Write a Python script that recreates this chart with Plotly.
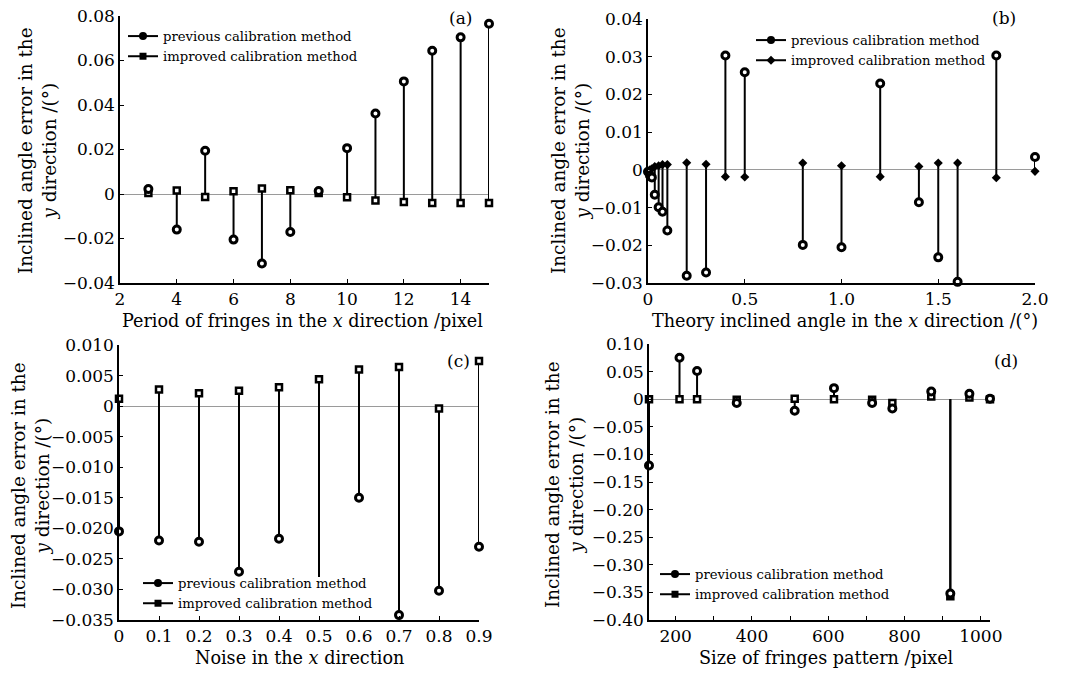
import plotly.graph_objects as go

# ---------------- data ----------------
# (a) period of fringes
a_x = [3, 4, 5, 6, 7, 8, 9, 10, 11, 12, 13, 14, 15]
a_prev = [0.0022, -0.0160, 0.0194, -0.0205, -0.0312, -0.0171, 0.0013, 0.0206, 0.0362, 0.0506, 0.0644, 0.0704, 0.0765]
a_impr = [0.0004, 0.0016, -0.0014, 0.0012, 0.0025, 0.0017, 0.0004, -0.0015, -0.0029, -0.0036, -0.0041, -0.0041, -0.0041]

# (b) theory inclined angle
b_x = [0.0, 0.01, 0.02, 0.035, 0.055, 0.075, 0.1, 0.2, 0.3, 0.4, 0.5, 0.8, 1.0, 1.2, 1.4, 1.5, 1.6, 1.8, 2.0]
b_prev = [-0.0005, -0.0015, -0.0020, -0.0066, -0.0099, -0.0111, -0.0161, -0.0281, -0.0272, 0.0303, 0.0259,
          -0.0199, -0.0205, 0.0229, -0.0086, -0.0232, -0.0297, 0.0303, 0.0034]
b_impr = [-0.0003, 0.0000, 0.0003, 0.0009, 0.0011, 0.0014, 0.0014, 0.0019, 0.0015, -0.0018, -0.0019,
          0.0018, 0.0011, -0.0018, 0.0009, 0.0018, 0.0018, -0.0021, -0.0004]

# (c) noise
c_x = [0.0, 0.1, 0.2, 0.3, 0.4, 0.5, 0.6, 0.7, 0.8, 0.9]
c_prev = [-0.0205, -0.0220, -0.0222, -0.0271, -0.0217, -0.0310, -0.0150, -0.0342, -0.0302, -0.0230]
c_impr = [0.0012, 0.0027, 0.0021, 0.0025, 0.0031, 0.0044, 0.0060, 0.0064, -0.0004, 0.0074]

# (d) size of fringes pattern
d_x = [130, 210, 256, 360, 512, 615, 715, 768, 870, 920, 970, 1024]
d_prev = [-0.120, 0.075, 0.051, -0.007, -0.021, 0.020, -0.007, -0.017, 0.014, -0.352, 0.010, 0.001]
d_impr = [0.000, 0.000, 0.000, -0.001, 0.001, 0.000, -0.001, -0.007, 0.005, -0.357, 0.003, 0.000]

legend_names = ["previous calibration method", "improved calibration method"]

a_yticks = [0.08, 0.06, 0.04, 0.02, 0, -0.02, -0.04]
a_ytext = ["0.08", "0.06", "0.04", "0.02", "0", "\u22120.02", "\u22120.04"]
b_yticks = [0.04, 0.03, 0.02, 0.01, 0, -0.01, -0.02, -0.03]
b_ytext = ["0.04", "0.03", "0.02", "0.01", "0", "\u22120.01", "\u22120.02", "\u22120.03"]
b_xticks = [0, 0.5, 1.0, 1.5, 2.0]
b_xtext = ["0", "0.5", "1.0", "1.5", "2.0"]
c_yticks = [0.010, 0.005, 0, -0.005, -0.010, -0.015, -0.020, -0.025, -0.030, -0.035]
c_ytext = ["0.010", "0.005", "0", "\u22120.005", "\u22120.010", "\u22120.015", "\u22120.020",
           "\u22120.025", "\u22120.030", "\u22120.035"]
c_xticks = [0, 0.1, 0.2, 0.3, 0.4, 0.5, 0.6, 0.7, 0.8, 0.9]
c_xtext = ["0", "0.1", "0.2", "0.3", "0.4", "0.5", "0.6", "0.7", "0.8", "0.9"]
d_yticks = [0.10, 0.05, 0, -0.05, -0.10, -0.15, -0.20, -0.25, -0.30, -0.35, -0.40]
d_ytext = ["0.10", "0.05", "0", "\u22120.05", "\u22120.10", "\u22120.15", "\u22120.20", "\u22120.25",
           "\u22120.30", "\u22120.35", "\u22120.40"]

# ---------------- figure ----------------
FONT = "DejaVu Serif"
OFF = 8                      # page body margin in the browser
FW, FH = 1068 - OFF, 673 - OFF
fig = go.Figure()


def fx(px):
    return (px - OFF) / FW


def fy(py):
    return 1 - (py - OFF) / FH


def stems(xs, ys):
    sx, sy = [], []
    for xv, yv in zip(xs, ys):
        sx += [xv, xv, None]
        sy += [0, yv, None]
    return sx, sy


def add_panel(idx, xs, prev, impr, impr_symbol, legend_id):
    xa = "x" if idx == 1 else f"x{idx}"
    ya = "y" if idx == 1 else f"y{idx}"
    for vals in (prev, impr):
        sx, sy = stems(xs, vals)
        fig.add_trace(go.Scatter(x=sx, y=sy, mode="lines", line=dict(color="black", width=2),
                                 xaxis=xa, yaxis=ya, showlegend=False, hoverinfo="skip",
                                 cliponaxis=False))
    if impr_symbol == "square":
        impr_marker = dict(symbol="square", size=6, color="white", line=dict(color="black", width=2.5))
    else:
        impr_marker = dict(symbol="diamond", size=7, color="black", line=dict(color="black", width=0))
    fig.add_trace(go.Scatter(x=xs, y=impr, mode="markers", xaxis=xa, yaxis=ya, showlegend=False,
                             marker=impr_marker, cliponaxis=False))
    fig.add_trace(go.Scatter(x=xs, y=prev, mode="markers", xaxis=xa, yaxis=ya, showlegend=False,
                             marker=dict(symbol="circle", size=7, color="white",
                                         line=dict(color="black", width=3)),
                             cliponaxis=False))
    # legend entries
    fig.add_trace(go.Scatter(x=[None], y=[None], mode="lines+markers", name=legend_names[0],
                             xaxis=xa, yaxis=ya, legend=legend_id,
                             line=dict(color="black", width=2),
                             marker=dict(symbol="circle", size=8, color="black")))
    fig.add_trace(go.Scatter(x=[None], y=[None], mode="lines+markers", name=legend_names[1],
                             xaxis=xa, yaxis=ya, legend=legend_id,
                             line=dict(color="black", width=2),
                             marker=dict(symbol=("square" if impr_symbol == "square" else "diamond"),
                                         size=7, color="black")))


add_panel(1, a_x, a_prev, a_impr, "square", "legend")
add_panel(2, b_x, b_prev, b_impr, "diamond", "legend2")
add_panel(3, c_x, c_prev, c_impr, "square", "legend3")
add_panel(4, d_x, d_prev, d_impr, "square", "legend4")


def dom_x(l, r):
    return [fx(l), fx(r)]


def dom_y(t, b):
    return [fy(b), fy(t)]


axis_common = dict(showline=True, linecolor="black", linewidth=1.5, ticks="inside", ticklen=4,
                   tickcolor="black", showgrid=False, mirror=False, automargin=False,
                   ticklabeloverflow="allow",
                   tickfont=dict(family=FONT, size=17, color="black"))
yaxis_common = dict(axis_common, zeroline=True, zerolinecolor="#9a9a9a", zerolinewidth=1)
xaxis_common = dict(axis_common, zeroline=False)

legend_common = dict(font=dict(family=FONT, size=13.2, color="black"), bgcolor="rgba(0,0,0,0)",
                     borderwidth=0, itemwidth=30, xanchor="left", yanchor="top",
                     tracegroupgap=0, itemclick=False)

fig.update_layout(
    width=FW, height=FH, autosize=False,
    margin=dict(l=0, r=0, t=0, b=0, pad=0, autoexpand=False),
    paper_bgcolor="white", plot_bgcolor="white",
    font=dict(family=FONT, color="black"),
    xaxis=dict(xaxis_common, domain=dom_x(120, 489), range=[2, 15], tickvals=[2, 4, 6, 8, 10, 12, 14],
               anchor="y"),
    yaxis=dict(yaxis_common, domain=dom_y(16, 283), range=[-0.04, 0.08], tickvals=a_yticks,
               ticktext=a_ytext, anchor="x"),
    xaxis2=dict(xaxis_common, domain=dom_x(648, 1035), range=[0, 2.0], tickvals=b_xticks,
                ticktext=b_xtext, anchor="y2"),
    yaxis2=dict(yaxis_common, domain=dom_y(19, 283), range=[-0.03, 0.04], tickvals=b_yticks,
                ticktext=b_ytext, anchor="x2"),
    xaxis3=dict(xaxis_common, domain=dom_x(119, 479), range=[0, 0.9], tickvals=c_xticks,
                ticktext=c_xtext, anchor="y3"),
    yaxis3=dict(yaxis_common, domain=dom_y(345, 620), range=[-0.035, 0.010], tickvals=c_yticks,
                ticktext=c_ytext, anchor="x3"),
    xaxis4=dict(xaxis_common, domain=dom_x(649, 990), range=[130, 1024], tickvals=[200, 400, 600, 800, 1000],
                minor=dict(tickvals=[300, 500, 700, 900], ticks="inside", ticklen=4, tickcolor="black"),
                anchor="y4"),
    yaxis4=dict(yaxis_common, domain=dom_y(344, 620), range=[-0.40, 0.10], tickvals=d_yticks,
                ticktext=d_ytext, anchor="x4"),
    legend=dict(legend_common, x=fx(123), y=fy(21)),
    legend2=dict(legend_common, x=fx(751), y=fy(25)),
    legend3=dict(legend_common, x=fx(138), y=fy(568)),
    legend4=dict(legend_common, x=fx(655), y=fy(559)),
    showlegend=True,
    # white patch behind the legend of panel (c), hiding the stem marker under it as in the original
    shapes=[dict(type="rect", xref="paper", yref="paper", x0=fx(176), x1=fx(378), y0=fy(612), y1=fy(577),
                 fillcolor="white", line=dict(width=0), layer="above")],
)

ytitle = "Inclined angle error in the<br><i>y</i> direction /(\u00b0)"
xtitles = [
    ("Period of fringes in the <i>x</i> direction /pixel", 302, 321),
    ("Theory inclined angle in the <i>x</i> direction /(\u00b0)", 845, 321),
    ("Noise in the <i>x</i> direction", 299, 658),
    ("Size of fringes pattern /pixel", 826, 658),
]
for txt, cx, cy in xtitles:
    fig.add_annotation(text=txt, x=fx(cx), y=fy(cy), xref="paper", yref="paper", showarrow=False,
                       xanchor="center", yanchor="middle", font=dict(family=FONT, size=17.6, color="black"))

for cx, cy in [(37, 151), (570, 151), (30, 486), (564, 485)]:
    fig.add_annotation(text=ytitle, x=fx(cx), y=fy(cy), xref="paper", yref="paper", showarrow=False,
                       textangle=-90, xanchor="center", yanchor="middle",
                       font=dict(family=FONT, size=18.4, color="black"))

for lab, cx, cy in [("(a)", 460, 18), ("(b)", 1004, 18), ("(c)", 458, 361), ("(d)", 1006, 361)]:
    fig.add_annotation(text=lab, x=fx(cx), y=fy(cy), xref="paper", yref="paper", showarrow=False,
                       xanchor="center", yanchor="middle", font=dict(family=FONT, size=17, color="black"))

fig.write_html("out.html")
